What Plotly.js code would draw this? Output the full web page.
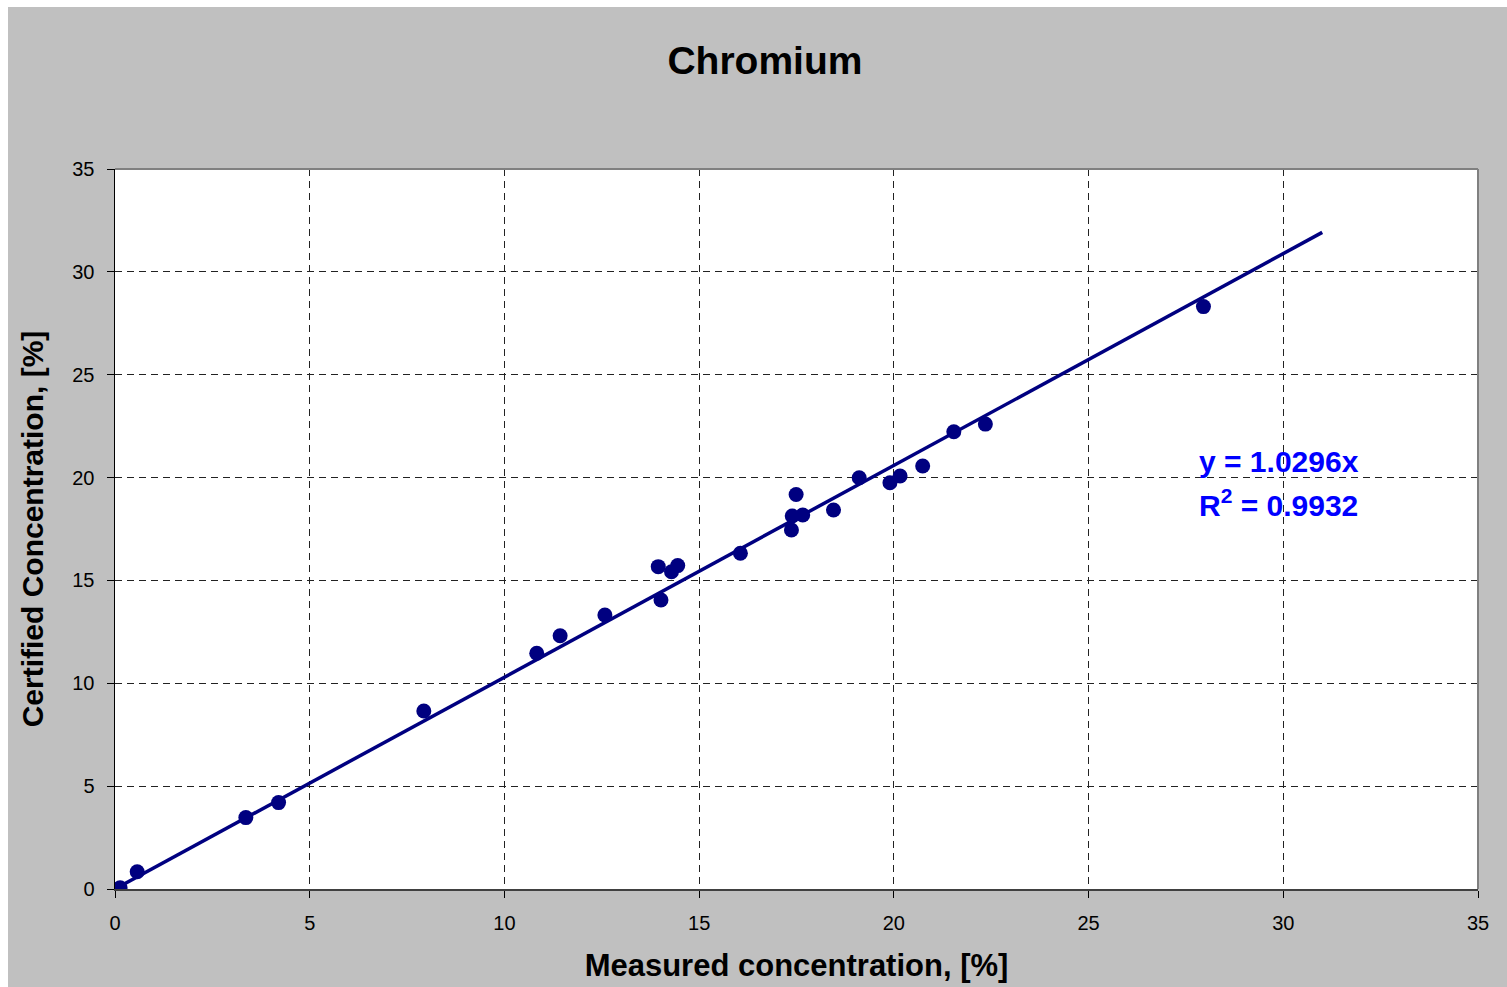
<!DOCTYPE html>
<html>
<head>
<meta charset="utf-8">
<script src="https://cdn.plot.ly/plotly-3.0.1.min.js"></script>
<style>
  html, body { margin: 0; padding: 0; background: #ffffff; }
  #chart { width: 1507px; height: 987px; }
</style>
</head>
<body>
<div id="chart"></div>
<script>
// ---- data ----
const chartTitle = "Chromium";
const xTitle = "Measured concentration, [%]";
const yTitle = "Certified Concentration, [%]";

const measured = [0.13, 0.57, 3.36, 4.20, 7.93, 10.83, 11.43, 12.58, 13.95, 14.02, 14.29, 14.45,
                  16.06, 17.37, 17.39, 17.49, 17.66, 18.45, 19.11, 19.90, 20.16, 20.74, 21.54, 22.35, 27.95];
const certified = [0.06, 0.84, 3.47, 4.20, 8.65, 11.46, 12.31, 13.32, 15.67, 14.05, 15.42, 15.72,
                   16.32, 17.45, 18.13, 19.18, 18.18, 18.42, 19.99, 19.75, 20.08, 20.56, 22.23, 22.60, 28.31];

const trendX = [0, 31];
const slope = 1.0296;
const rSquared = 0.9932;
const trendY = trendX.map(v => v * slope);

const tickVals = [0, 5, 10, 15, 20, 25, 30, 35];

// ---- traces ----
const points = {
  x: measured, y: certified, type: "scatter", mode: "markers",
  marker: { color: "#000080", size: 15, line: { color: "#000080", width: 0 } },
  hoverinfo: "skip", showlegend: false
};
const trend = {
  x: trendX, y: trendY, type: "scatter", mode: "lines",
  line: { color: "#000080", width: 3.5 },
  hoverinfo: "skip", showlegend: false
};

const fontFam = "Liberation Sans, Arial, sans-serif";

const layout = {
  width: 1507, height: 987,
  margin: { l: 115, r: 29, t: 169, b: 98, pad: 0 },
  paper_bgcolor: "#C0C0C0",
  plot_bgcolor: "#FFFFFF",
  font: { family: fontFam, color: "#000000" },
  title: {
    text: "<b>" + chartTitle + "</b>",
    font: { family: fontFam, size: 39, color: "#000000" },
    xref: "container", x: 0.5076, xanchor: "center",
    yref: "container", y: 0.939, yanchor: "middle"
  },
  xaxis: {
    range: [0, 35], tickvals: tickVals, ticktext: tickVals.map(String),
    showgrid: true, gridcolor: "#222222", gridwidth: 1, griddash: "7px,5px",
    zeroline: false,
    showline: true, linecolor: "#404040", linewidth: 2,
    ticks: "outside", ticklen: 7, tickcolor: "#000000", tickwidth: 1,
    tickfont: { family: fontFam, size: 20, color: "#000000" },
    ticklabelstandoff: 8,
    title: { text: "<b>" + xTitle + "</b>", font: { family: fontFam, size: 31, color: "#000000" }, standoff: 21 },
    fixedrange: true
  },
  yaxis: {
    range: [0, 35], tickvals: tickVals, ticktext: tickVals.map(String),
    showgrid: true, gridcolor: "#222222", gridwidth: 1, griddash: "7px,5px",
    zeroline: false,
    showline: true, linecolor: "#000000", linewidth: 1.5,
    ticks: "outside", ticklen: 7, tickcolor: "#000000", tickwidth: 1,
    tickfont: { family: fontFam, size: 20, color: "#000000" },
    ticklabelstandoff: 8,
    title: { text: "<b>" + yTitle + "</b>", font: { family: fontFam, size: 30, color: "#000000" }, standoff: 20 },
    fixedrange: true
  },
  shapes: [
    // white strips at the top-left of the image
    { type: "rect", xref: "paper", yref: "paper", x0: -0.2, x1: -0.0785, y0: -0.3, y1: 1.4,
      fillcolor: "#FFFFFF", line: { width: 0 }, layer: "below" },
    { type: "rect", xref: "paper", yref: "paper", x0: -0.2, x1: 1.2, y0: 1.225, y1: 1.4,
      fillcolor: "#FFFFFF", line: { width: 0 }, layer: "below" },
    // top and right plot border
    { type: "line", xref: "paper", yref: "paper", x0: 0, x1: 1, y0: 1, y1: 1,
      line: { color: "#808080", width: 2 } },
    { type: "line", xref: "paper", yref: "paper", x0: 1, x1: 1, y0: 0, y1: 1,
      line: { color: "#808080", width: 2 } }
  ],
  annotations: [
    { xref: "paper", yref: "paper", x: (1197 - 115) / 1363, y: (889 - 461) / 720,
      xanchor: "left", yanchor: "middle", showarrow: false,
      text: "<b>y = " + slope.toFixed(4) + "x</b>",
      font: { family: fontFam, size: 30, color: "#0000FF" } },
    { xref: "paper", yref: "paper", x: (1197 - 115) / 1363, y: (889 - 503) / 720,
      xanchor: "left", yanchor: "middle", showarrow: false,
      text: "<b>R<sup>2</sup> = " + rSquared.toFixed(4) + "</b>",
      font: { family: fontFam, size: 30, color: "#0000FF" } }
  ]
};

Plotly.newPlot("chart", [trend, points], layout, { displayModeBar: false, staticPlot: true });
</script>
</body>
</html>
